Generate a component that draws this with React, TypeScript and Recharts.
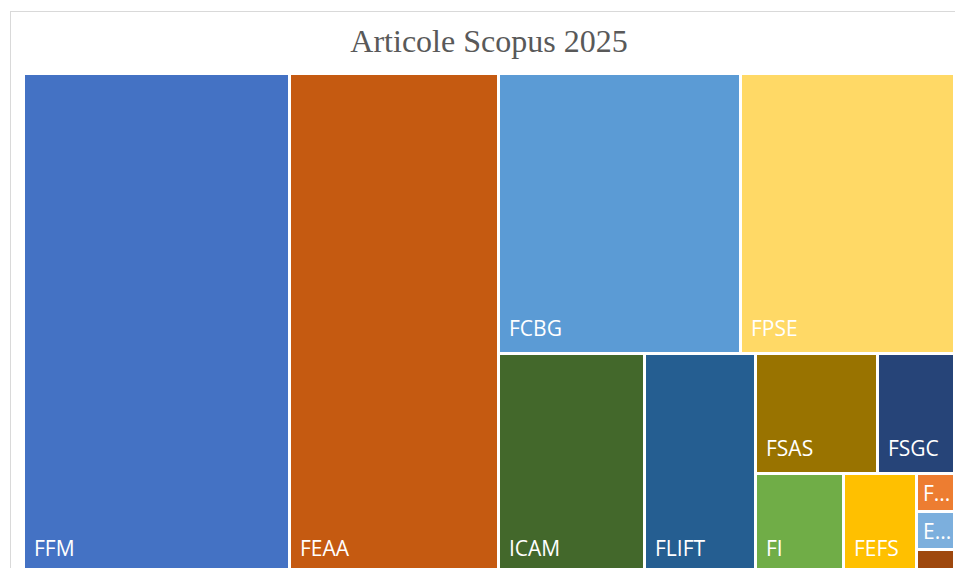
import React from 'react';
import { Treemap } from 'recharts';

// Faculty abbreviations (as displayed) and Scopus article counts
const faculties = ['FFM', 'FEAA', 'FCBG', 'FPSE', 'ICAM', 'FLIFT', 'FSAS', 'FSGC', 'FI', 'FEFS', 'F...', 'E...', '…'];
const articles = [273, 215, 139, 123, 66, 50, 30, 19, 18, 15, 3, 3, 2];
const cellColors = [
  '#4472C4', '#C55A11', '#5B9BD5', '#FFD966', '#43682B', '#255E91', '#997300',
  '#264478', '#70AD47', '#FFC000', '#ED7D31', '#7CAFDD', '#9E480E',
];
const chartTitle = 'Articole Scopus 2025';

const data = faculties.map((name, i) => ({ name, value: articles[i] }));

const CellShape = (props: any) => {
  const { x, y, width, height, index, depth, name } = props;
  if (depth !== 1) return null;
  const fill = cellColors[index % cellColors.length];
  const showLabel = height >= 30 && width >= 30;
  const small = height < 60;
  const padX = width < 60 ? 6 : 10;
  const ty = small ? y + height / 2 + 7.5 : y + height - 18;
  return (
    <g>
      <rect x={x + 1} y={y + 1} width={Math.max(0, width - 3)} height={Math.max(0, height - 3)} fill={fill} />
      {showLabel && (
        <text x={x + padX} y={ty} fill="#ffffff" fontFamily="'Open Sans', sans-serif" fontSize={21}>
          {name}
        </text>
      )}
    </g>
  );
};

export default function App() {
  return (
    <div
      style={{
        position: 'fixed',
        left: 0,
        top: 0,
        width: 955,
        height: 568,
        overflow: 'hidden',
        background: '#ffffff',
      }}
    >
      <div
        style={{
          position: 'absolute',
          left: 10,
          top: 11,
          width: 980,
          height: 620,
          border: '1px solid #d9d9d9',
          boxSizing: 'border-box',
        }}
      />
      <svg width={955} height={70} style={{ position: 'absolute', left: 0, top: 0 }}>
        <text
          x={489}
          y={52}
          textAnchor="middle"
          fill="#595959"
          fontFamily="'Liberation Serif', serif"
          fontSize={32}
        >
          {chartTitle}
        </text>
      </svg>
      <div style={{ position: 'absolute', left: 24, top: 74 }}>
        <Treemap
          width={931}
          height={500}
          data={data}
          dataKey="value"
          nameKey="name"
          aspectRatio={0.8}
          isAnimationActive={false}
          content={<CellShape />}
        />
      </div>
    </div>
  );
}
